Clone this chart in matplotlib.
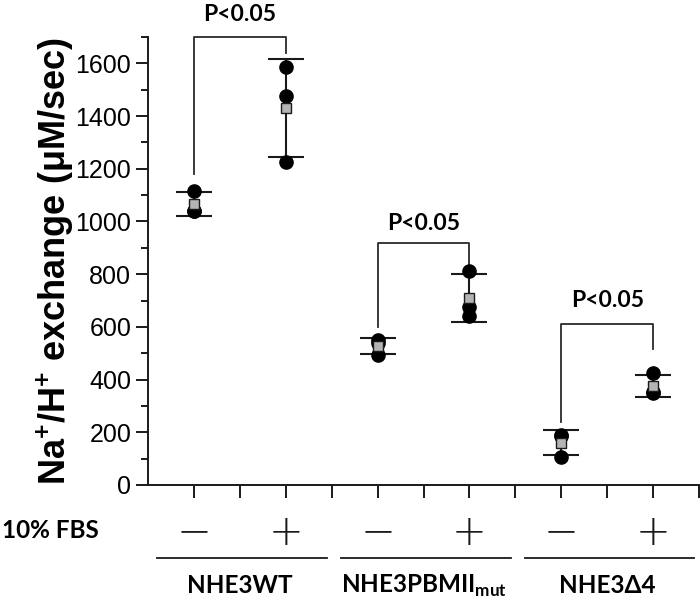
import numpy as np
import matplotlib
matplotlib.use("Agg")
import matplotlib.pyplot as plt
from matplotlib.ticker import MultipleLocator
import matplotlib.transforms as mtransforms

plt.rcParams["font.family"] = ["Liberation Sans", "DejaVu Sans"]
plt.rcParams["mathtext.fontset"] = "custom"
plt.rcParams["mathtext.rm"] = "Lato:bold"
plt.rcParams["mathtext.bf"] = "Lato:bold"

groups = ["NHE3WT", r"NHE3PBMII$_{\mathrm{mut}}$", "NHE3Δ4"]
fbs_signs = ["−", "+"]
wt_minus = [1117, 1040, 1038]
wt_plus = [1588, 1476, 1226]
pbm_minus = [552, 537, 495]
pbm_plus = [813, 677, 641]
d4_minus = [190, 185, 105]
d4_plus = [424, 352, 350]
conditions = [wt_minus, wt_plus, pbm_minus, pbm_plus, d4_minus, d4_plus]
x_pos = [1, 3, 5, 7, 9, 11]

# significance brackets: (x_left, x_right, y_left_end, y_top, y_right_end, text_baseline)
brackets = [
    (1, 3, 1180, 1700, 1640, 1762),
    (5, 7, 600, 920, 840, 968),
    (9, 11, 240, 610, 515, 677),
]
p_label = "P<0.05"

ink = "#1a1a1a"

fig = plt.figure(figsize=(7.0, 6.03), dpi=100)
ax = fig.add_axes([148 / 700, 1 - 485 / 603, 551 / 700, 448 / 603])

for xp, vals in zip(x_pos, conditions):
    vals = np.array(vals, dtype=float)
    m = vals.mean()
    sd = vals.std(ddof=1)
    ax.errorbar(xp, m, yerr=sd, fmt="none", ecolor=ink, elinewidth=1.5,
                capsize=13, capthick=1.5, zorder=2, clip_on=False)
    ax.plot([xp] * len(vals), vals, "o", color="black", ms=9.5, zorder=3,
            clip_on=False)
    ax.plot(xp, m, "s", mfc="#b4b4b4", mec=ink, mew=1.0, ms=7.5, zorder=4,
            clip_on=False)

for x1, x2, yl, yt, yr, ty in brackets:
    ax.plot([x1, x1, x2, x2], [yl, yt, yt, yr], color="#2a2a2a", lw=1.3,
            clip_on=False, zorder=1)
    ax.text((x1 + x2) / 2, ty, p_label, ha="center", va="baseline",
            fontsize=16.5, fontweight="bold", family="Lato", clip_on=False)

ax.set_xlim(0, 12)
ax.set_ylim(0, 1700)
ax.set_xticks(np.arange(1, 13))
ax.set_xticklabels([])
ax.yaxis.set_major_locator(MultipleLocator(200))
ax.yaxis.set_minor_locator(MultipleLocator(100))
ax.set_yticks(np.arange(0, 1601, 200))
ax.tick_params(axis="both", which="major", length=9, width=1.4, color=ink,
               labelsize=18, pad=3)
ax.tick_params(axis="y", which="minor", length=5, width=1.4, color=ink)
for side in ["top", "right"]:
    ax.spines[side].set_visible(False)
for side in ["left", "bottom"]:
    ax.spines[side].set_linewidth(1.4)
    ax.spines[side].set_color(ink)

ax.set_ylabel(r"Na$^{\mathrm{+}}$/H$^{\mathrm{+}}$ exchange (μM/sec)",
              fontsize=26, fontweight="bold")
ax.yaxis.set_label_coords(-(148 - 55) / 551, 0.5)
ax.yaxis.label.set_va("center")

# FBS row and group labels under the axis
trans = mtransforms.blended_transform_factory(ax.transData, ax.transAxes)
for i, xp in enumerate(x_pos):
    ax.text(xp, -0.105, fbs_signs[i % 2], transform=trans, ha="center",
            va="center", fontsize=30, family="DejaVu Sans",
            fontweight="light", color=ink)
fig.text(0.003, 1 - 531 / 603, "10% FBS", ha="left", va="center",
         fontsize=17.5, fontweight="bold", family="Lato")
for i, name in enumerate(groups):
    left = 4 * i + 0.2
    right = 4 * i + 3.9
    ax.plot([left, right], [-0.163, -0.163], transform=trans, color=ink,
            lw=1.3, clip_on=False)
    ax.text(4 * i + 2, -0.241, name, transform=trans, ha="center",
            va="baseline", fontsize=17.5, fontweight="bold", family="Lato")

fig.savefig("out.png", dpi=100)
